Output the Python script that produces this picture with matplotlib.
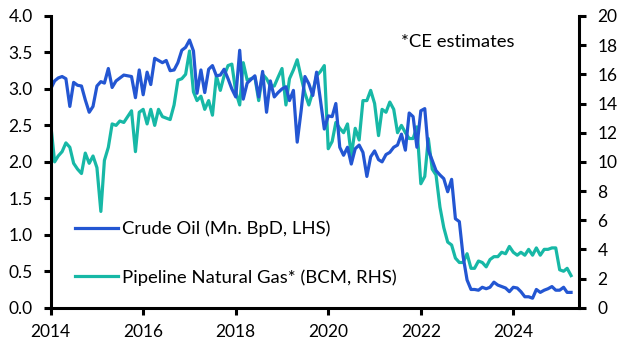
import numpy as np
import pandas as pd
import matplotlib
matplotlib.use('Agg')
import matplotlib.pyplot as plt

plt.rcParams['font.family'] = ['Lato', 'DejaVu Sans']

# Monthly, Jan 2014 - Apr 2025
dates = pd.date_range('2014-01-01', periods=136, freq='MS')

# Crude oil (Mn. BpD, LHS)
crude_oil = [
    3.00, 3.11, 3.15, 3.17, 3.14, 2.76, 3.09, 3.05, 3.04, 2.85, 2.68, 2.76,
    3.04, 3.10, 3.08, 3.28, 3.02, 3.11, 3.15, 3.19, 3.18, 3.17, 2.88, 3.26,
    2.92, 3.23, 3.06, 3.42, 3.39, 3.36, 3.39, 3.25, 3.26, 3.36, 3.53, 3.57,
    3.67, 3.52, 2.94, 3.26, 2.95, 3.27, 3.32, 3.18, 3.19, 3.27, 3.14, 3.00,
    2.89, 3.53, 2.86, 3.08, 3.13, 3.18, 2.89, 3.24, 2.68, 3.11, 2.89, 2.95,
    3.00, 3.03, 2.84, 2.98, 2.27, 2.70, 3.17, 3.07, 2.91, 3.23, 2.84, 2.45,
    2.63, 2.62, 2.80, 2.20, 2.09, 2.20, 1.97, 2.18, 2.23, 2.13, 1.80, 2.07,
    2.15, 2.03, 2.00, 2.10, 2.13, 2.20, 2.23, 2.38, 2.16, 2.67, 2.62, 2.20,
    2.70, 2.73, 2.16, 2.02, 1.88, 1.82, 1.77, 1.59, 1.76, 1.22, 1.18, 0.70,
    0.38, 0.25, 0.25, 0.24, 0.28, 0.26, 0.28, 0.35, 0.31, 0.29, 0.27, 0.22,
    0.28, 0.27, 0.22, 0.15, 0.15, 0.13, 0.25, 0.21, 0.24, 0.26, 0.29, 0.24,
    0.24, 0.28, 0.21, 0.21,
]

# Pipeline natural gas (BCM, RHS)
pipeline_gas = [
    12.6, 10.0, 10.4, 10.7, 11.3, 11.0, 9.9, 9.5, 9.2, 10.6, 9.9, 10.4,
    9.6, 6.6, 10.1, 11.0, 12.6, 12.5, 12.8, 12.7, 13.1, 13.5, 10.7, 13.4,
    13.6, 12.6, 13.6, 12.5, 13.6, 13.1, 13.0, 12.9, 13.9, 15.6, 15.7, 16.0,
    17.6, 14.8, 14.2, 14.5, 13.6, 14.2, 13.2, 15.9, 14.9, 15.9, 16.6, 16.7,
    14.8, 13.9, 16.8, 15.6, 15.7, 15.8, 14.2, 16.0, 15.7, 15.2, 15.2, 15.8,
    16.4, 13.9, 15.7, 16.3, 17.0, 15.8, 14.7, 13.9, 14.8, 15.9, 16.2, 16.6,
    10.9, 11.4, 12.7, 12.3, 12.0, 12.6, 10.4, 12.3, 11.5, 14.2, 14.2, 14.9,
    14.0, 11.8, 13.6, 13.4, 14.1, 13.6, 12.0, 12.5, 12.0, 11.6, 11.6, 12.4,
    8.5, 9.0, 11.6, 9.5, 9.1, 6.9, 5.5, 4.5, 4.3, 3.4, 3.1, 3.1,
    3.7, 2.7, 2.7, 3.2, 3.1, 2.8, 3.3, 3.5, 3.5, 3.8, 3.7, 4.2,
    3.8, 3.6, 3.8, 3.6, 4.0, 3.6, 4.1, 3.6, 4.0, 4.0, 4.1, 4.1,
    2.6, 2.5, 2.7, 2.2,
]

left_ticks = [0.0, 0.5, 1.0, 1.5, 2.0, 2.5, 3.0, 3.5, 4.0]
right_ticks = [0, 2, 4, 6, 8, 10, 12, 14, 16, 18, 20]
year_ticks = [2014, 2016, 2018, 2020, 2022, 2024]

blue = '#2356D2'
teal = '#17B8A6'

fig = plt.figure(figsize=(6.29, 3.55), dpi=100)
ax = fig.add_axes([50.7 / 629, 1 - 307.7 / 355, (579.3 - 50.7) / 629, (307.7 - 16) / 355])
ax2 = ax.twinx()

ax2.plot(dates, pipeline_gas, color=teal, lw=2.3, label='Pipeline Natural Gas* (BCM, RHS)')
ax.plot(dates, crude_oil, color=blue, lw=2.3, label='Crude Oil (Mn. BpD, LHS)')
ax.set_zorder(ax2.get_zorder() + 1)
ax.patch.set_visible(False)

ax.set_ylim(0, 4)
ax2.set_ylim(0, 20)
ax.set_yticks(left_ticks)
ax.set_yticklabels([f'{t:.1f}' for t in left_ticks])
ax2.set_yticks(right_ticks)
ax.set_xlim(pd.Timestamp('2014-01-01'), pd.Timestamp('2025-06-05'))
ax.set_xticks([pd.Timestamp(f'{y}-01-01') for y in year_ticks])
ax.set_xticklabels([str(y) for y in year_ticks])

for a in (ax, ax2):
    for s in a.spines.values():
        s.set_linewidth(2.2)
    a.spines['top'].set_visible(False)
    a.tick_params(width=2.2, length=5, labelsize=12.5, direction='out')
ax.tick_params(axis='y', pad=8)
ax.tick_params(axis='x', pad=7)
ax2.tick_params(axis='y', pad=8)
ax.spines['right'].set_visible(False)
ax2.spines['left'].set_visible(False)
ax2.spines['bottom'].set_visible(False)

h1, l1 = ax.get_legend_handles_labels()
h2, l2 = ax2.get_legend_handles_labels()
ax.legend(h1 + h2, l1 + l2, loc='lower left', bbox_to_anchor=(0.015, 0.018),
          frameon=False, fontsize=13.3, handlelength=2.3, handletextpad=0.25,
          labelspacing=1.73)

ax.text(0.662, 0.91, '*CE estimates', transform=ax.transAxes, fontsize=13.3, va='center')

fig.savefig('out.png', dpi=100)
